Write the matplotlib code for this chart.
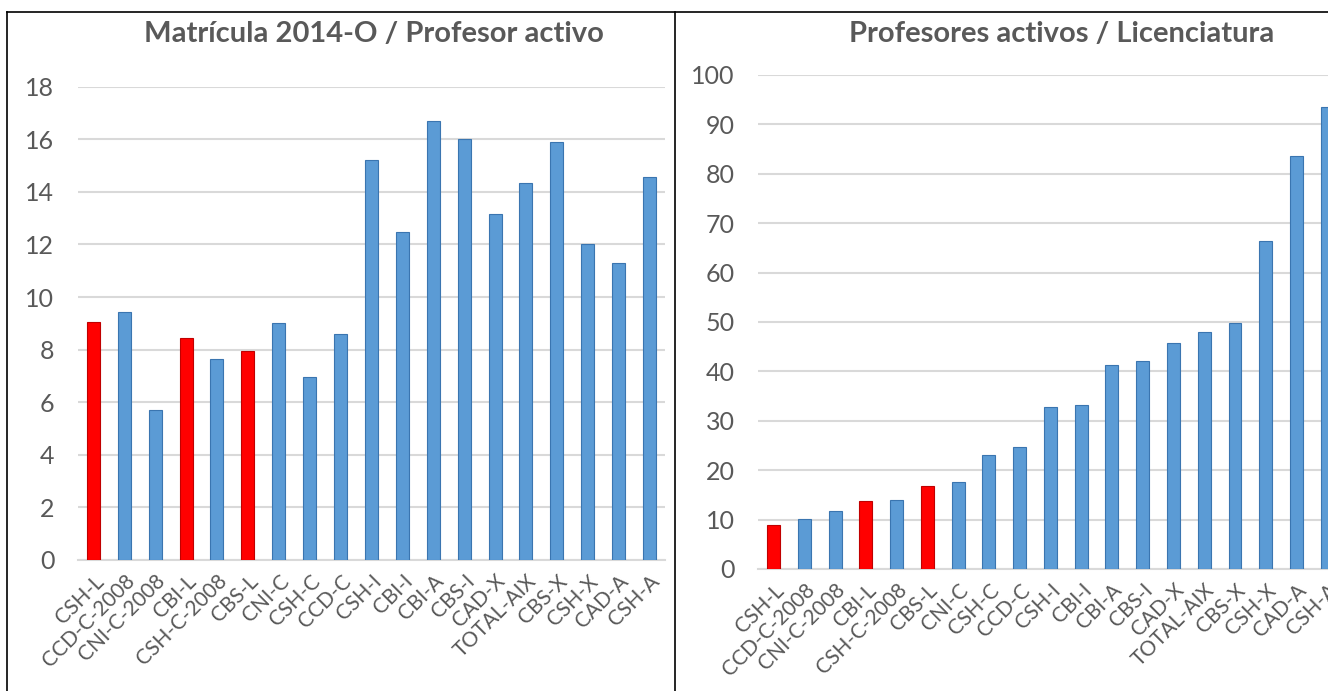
import matplotlib
matplotlib.use("Agg")
import matplotlib.pyplot as plt
from matplotlib.lines import Line2D

plt.rcParams['font.family'] = ['Lato', 'DejaVu Sans']

categorias = ['CSH-L', 'CCD-C-2008', 'CNI-C-2008', 'CBI-L', 'CSH-C-2008', 'CBS-L',
              'CNI-C', 'CSH-C', 'CCD-C', 'CSH-I', 'CBI-I', 'CBI-A', 'CBS-I', 'CAD-X',
              'TOTAL-AIX', 'CBS-X', 'CSH-X', 'CAD-A', 'CSH-A']
matricula_prof = [9.05, 9.42, 5.70, 8.44, 7.63, 7.95, 9.02, 6.97, 8.59, 15.21,
                  12.46, 16.70, 16.01, 13.16, 14.32, 15.89, 12.02, 11.31, 14.58]
prof_lic = [8.8, 10.1, 11.7, 13.8, 14.0, 16.7, 17.7, 23.0, 24.6, 32.7,
            33.1, 41.2, 42.1, 45.7, 47.9, 49.7, 66.3, 83.5, 93.6]
resaltados = ['CSH-L', 'CBI-L', 'CBS-L']

gris = '#595959'
colores = ['#FF0000' if c in resaltados else '#5B9BD5' for c in categorias]
bordes = ['#C00000' if c in resaltados else '#3A75B0' for c in categorias]

fig = plt.figure(figsize=(13.28, 6.91), dpi=100)


def panel(ax, valores, ymax, paso):
    x = range(len(categorias))
    ax.bar(x, valores, width=0.42, color=colores, edgecolor=bordes, linewidth=0.8, zorder=3)
    ax.set_xlim(-0.5, len(categorias) - 0.5)
    ax.set_ylim(0, ymax)
    ax.set_yticks(range(0, ymax + 1, paso))
    ax.yaxis.grid(True, color='#D9D9D9', linewidth=1.5, zorder=0)
    for s in ['top', 'right', 'left']:
        ax.spines[s].set_visible(False)
    ax.spines['bottom'].set_color('#D9D9D9')
    ax.spines['bottom'].set_linewidth(1.5)
    ax.tick_params(axis='y', length=0, labelsize=18, colors=gris, pad=17)
    ax.set_xticks(list(x))
    ax.set_xticklabels(categorias, rotation=45, ha='right', rotation_mode='anchor',
                       fontsize=15, color=gris)
    ax.tick_params(axis='x', length=0, pad=8)


ax1 = fig.add_axes([0.0587, 0.1896, 0.442, 0.685])
panel(ax1, matricula_prof, 18, 2)

ax2 = fig.add_axes([0.571, 0.1766, 0.440, 0.715])
panel(ax2, prof_lic, 100, 10)

fig.text(373.5 / 1328, 0.951, 'Matrícula 2014-O / Profesor activo', fontsize=21,
         fontweight='bold', color=gris, ha='center', va='center')
fig.text(1062 / 1328, 0.951, 'Profesores activos / Licenciatura', fontsize=21,
         fontweight='bold', color=gris, ha='center', va='center')

# marcos
for linea in [([7 / 1328, 1], [1 - 12 / 691, 1 - 12 / 691]),
              ([7 / 1328, 7 / 1328], [0, 1 - 12 / 691]),
              ([675 / 1328, 675 / 1328], [0, 1 - 12 / 691])]:
    fig.add_artist(Line2D(linea[0], linea[1], color='black', linewidth=1.2,
                          transform=fig.transFigure))

fig.savefig('out.png', dpi=100)
